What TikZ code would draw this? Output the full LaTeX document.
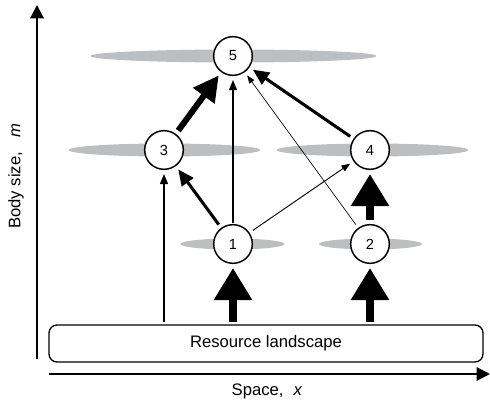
\documentclass[tikz,border=0pt]{standalone}
\usepackage{fontspec}
\setmainfont{Liberation Sans}
\usetikzlibrary{arrows.meta}
\definecolor{nichegray}{HTML}{BCBEC0}
\begin{document}
\begin{tikzpicture}[x=0.75pt, y=0.75pt,
    site/.style={circle, draw, line width=1.1pt, fill=white, minimum size=29pt, inner sep=0pt, font=\fontsize{11}{13}\selectfont},
    label/.style={font=\fontsize{12.5}{15}\selectfont},
    link/.style={shorten <=3pt, shorten >=3pt},
    hairarr/.style={link, line width=0.5pt, -{Triangle[width=4.5pt, length=6pt]}},
    finearr/.style={link, line width=0.7pt, -{Triangle[width=5pt, length=6.5pt]}},
    thinarr/.style={link, line width=1pt, -{Triangle[width=6pt, length=7.5pt]}},
    medarr/.style={link, line width=2.3pt, -{Triangle[width=10.5pt, length=12pt]}},
    bigarr/.style={link, line width=4.5pt, -{Triangle[width=19pt, length=19pt]}},
    fatarr/.style={link, line width=5.3pt, -{Triangle[width=27.5pt, length=24pt]}}]
    \useasboundingbox (0,0) rectangle (490,401);
    % axes
    \coordinate (origin-y) at (37,42);
    \coordinate (top-y) at (37,396);
    \coordinate (origin-x) at (49,27);
    \coordinate (end-x) at (490,27);
    \draw[line width=1.6pt, -{Triangle[width=10pt, length=10pt]}] (origin-y) -- (top-y);
    \draw[line width=1.6pt, -{Triangle[width=10pt, length=10pt]}] (origin-x) -- (end-x);
    \node[label] (xlabel) at (267,10) {Space,\hspace{0.6em}\textit{x}};
    \node[label, rotate=90] (ylabel) at (16,225) {Body size,\hspace{0.9em}\textit{m}};
    % niches
    \fill[nichegray] (233.5,345) ellipse [x radius=143, y radius=6.5];
    \fill[nichegray] (164.5,251) ellipse [x radius=96, y radius=6.5];
    \fill[nichegray] (372.5,251) ellipse [x radius=96, y radius=6.5];
    \fill[nichegray] (232.5,157) ellipse [x radius=52, y radius=5.5];
    \fill[nichegray] (370.5,157) ellipse [x radius=51.5, y radius=5.5];
    % resource
    \node[label, draw, line width=1pt, rounded corners=6pt, minimum width=325.5pt, minimum height=27.75pt] (land) at (266,57.5) {Resource landscape};
    % species
    \node[site] (n1) at (233,157) {1};
    \node[site] (n2) at (370,157) {2};
    \node[site] (n3) at (164,251) {3};
    \node[site] (n4) at (370,251) {4};
    \node[site] (n5) at (233,345) {5};
    % fluxes
    \draw[fatarr, shorten <=2pt] (land.north -| n1) -- (n1);
    \draw[fatarr, shorten <=2pt] (land.north -| n2) -- (n2);
    \draw[thinarr, shorten <=2pt] (land.north -| n3) -- (n3);
    \draw[fatarr] (n2) -- (n4);
    \draw[medarr] (n1) -- (n3);
    \draw[thinarr, shorten <=1pt] (n1) -- (n5);
    \draw[finearr] (n1) -- (n4);
    \draw[hairarr] (n2) -- (n5);
    \draw[medarr] (n4) -- (n5);
    \draw[bigarr] (n3) -- (n5);
\end{tikzpicture}
\end{document}
